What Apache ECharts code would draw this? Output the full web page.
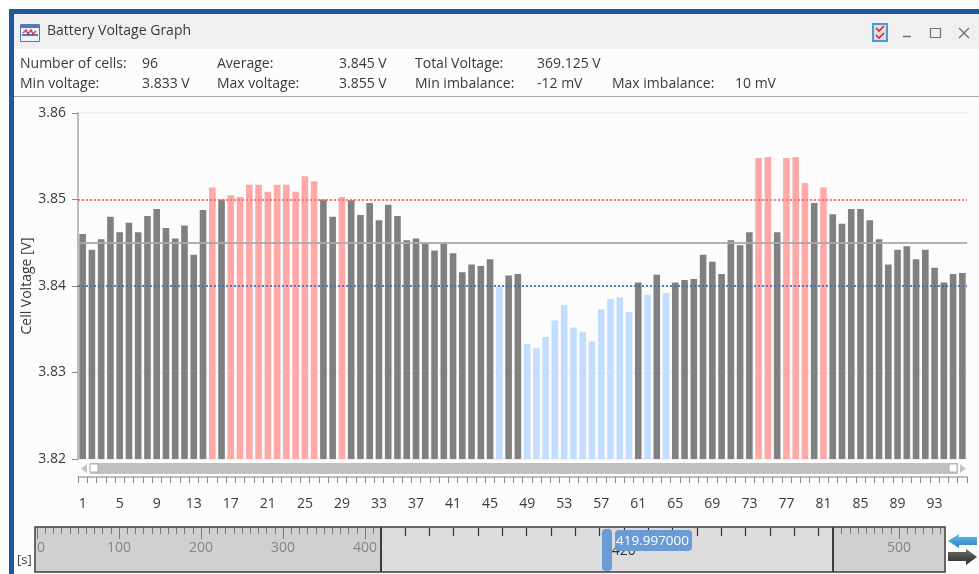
<!DOCTYPE html>
<html><head><meta charset="utf-8">
<style>html,body{margin:0;padding:0;background:#fff;overflow:hidden}#c{width:979px;height:574px}</style>
<script src="https://cdn.jsdelivr.net/npm/echarts@6/dist/echarts.min.js"></script>
</head><body><div id="c"></div>
<script>
const cellValues = [
3.8460,3.8442,3.8454,3.8480,3.8462,3.8473,3.8462,3.8481,3.8489,3.8467,3.8455,3.8470,3.8436,3.8488,3.8514,3.8500,
3.8505,3.8503,3.8517,3.8517,3.8509,3.8517,3.8517,3.8509,3.8527,3.8521,3.8500,3.8480,3.8503,3.8499,3.8482,3.8496,
3.8476,3.8494,3.8481,3.8453,3.8455,3.8449,3.8441,3.8449,3.8438,3.8416,3.8425,3.8423,3.8431,3.8399,3.8412,3.8414,
3.8333,3.8328,3.8341,3.8360,3.8378,3.8352,3.8347,3.8336,3.8373,3.8385,3.8387,3.8370,3.8404,3.8390,3.8413,3.8392,
3.8404,3.8407,3.8408,3.8436,3.8428,3.8414,3.8453,3.8447,3.8462,3.8548,3.8549,3.8462,3.8548,3.8549,3.8519,3.8496,
3.8514,3.8483,3.8472,3.8489,3.8489,3.8476,3.8454,3.8425,3.8442,3.8446,3.8431,3.8442,3.8421,3.8404,3.8414,3.8415];
const cellNumbers = cellValues.map((_, i) => String(i + 1));
const averageVoltage = 3.845, upperLimit = 3.85, lowerLimit = 3.84;
const middleRulerTicks = [411,412,413,414,415,416,417,418,419,420,421,422,423,424,425,426,427,428];
const infoRows = [
  [[20,64,'Number of cells:'],[142,64,'96'],[217,64,'Average:'],[339,64,'3.845 V'],[415,64,'Total Voltage:'],[537,64,'369.125 V']],
  [[20,84,'Min voltage:'],[142,84,'3.833 V'],[217,84,'Max voltage:'],[339,84,'3.855 V'],[415,84,'Min imbalance:'],[537,84,'-12 mV'],[612,84,'Max imbalance:'],[735,84,'10 mV']]
];
const FONT = '"Open Sans","Noto Sans",sans-serif';
const TEXT = '#3a3a3a';
const rect = (x,y,w,h,fill,extra) => Object.assign({type:'rect',silent:true,shape:{x,y,width:w,height:h},style:{fill}},extra||{});
const line = (x1,y1,x2,y2,stroke,lineWidth,z) => ({type:'line',silent:true,z:z||0,shape:{x1,y1,x2,y2},style:{stroke,lineWidth}});
const label = (x,y,text,size,fill,z) => ({type:'text',silent:true,z:z||5,x,y,style:{text,font:size+'px '+FONT,fill,textVerticalAlign:'middle',textBaseline:'middle'}});
const poly = (points,fill,z) => ({type:'polygon',silent:true,z:z||5,shape:{points},style:{fill}});
const polyline = (points,stroke,lineWidth,z) => ({type:'polyline',silent:true,z:z||5,shape:{points},style:{stroke,lineWidth,fill:'none'}});
const vGrad = (a,b) => new echarts.graphic.LinearGradient(0,0,0,1,[{offset:0,color:a},{offset:1,color:b}]);

const behind = [
  rect(9,9,970,5,'#1f56a0',{z:-2}),
  rect(9,9,5,565,'#1f56a0',{z:-2}),
  rect(14,14,965,35,'#f0f0f0',{z:-2}),
  rect(14,49,965,525,'#fcfcfc',{z:-2}),
  line(14,96.5,979,96.5,'#a8a8a8',1,-1),
  rect(35,527,346,45,'#d0d0d0',{z:-1}),
  rect(381,527,452,45,'#dcdcdc',{z:-1}),
  rect(833,527,112,45,'#d0d0d0',{z:-1})
];
const front = [
  // window icon
  rect(20.5,24.5,19,17,'#ffffff',{z:5,style:{fill:'#eef3fb',stroke:'#5a78b0',lineWidth:1}}),
  rect(21,25,18,3,'#5a78b0',{z:5}),
  polyline([[23,33],[26,30],[28,34],[31,30],[33,34],[36,31]],'#d84040',1.5,6),
  line(22,35,38,35,'#2a4f9a',1.5,6),
  label(47,31,'Battery Voltage Graph',14,TEXT),
  // window buttons
  rect(873,24,14,17,'#cfe4f7',{z:5,style:{fill:'#e8d8d8',stroke:'#4a9ad8',lineWidth:2}}),
  polyline([[876,28],[879,31],[884,26]],'#c83030',1.6,6),
  polyline([[876,35],[879,38],[884,33]],'#c83030',1.6,6),
  line(903,36.5,911,36.5,'#707070',1.5,5),
  {type:'rect',silent:true,z:5,shape:{x:930.5,y:28.5,width:10,height:9},style:{fill:'none',stroke:'#707070',lineWidth:1.2}},
  line(959,28,969,38,'#707070',1.3,5),
  line(969,28,959,38,'#707070',1.3,5),
  // scrollbar under the plot
  rect(90,463,868,11,'#c0c0c0',{z:5}),
  rect(90,464,8,8,'#ffffff',{z:6,style:{fill:'#ffffff',stroke:'#b0b0b0',lineWidth:1}}),
  rect(949,464,8,8,'#ffffff',{z:6,style:{fill:'#ffffff',stroke:'#b0b0b0',lineWidth:1}}),
  poly([[81,468.5],[87,464],[87,473]],'#c4c4c4',6),
  poly([[966,468.5],[960,464],[960,473]],'#c4c4c4',6),
  // time ruler frame
  {type:'rect',silent:true,z:8,shape:{x:35,y:527,width:910,height:45},style:{fill:'none',stroke:'#3c3c3c',lineWidth:1.5}},
  line(381,527,381,572,'#3c3c3c',2,8),
  line(833,527,833,572,'#3c3c3c',2,8),
  label(17,560,'[s]',13,TEXT),
  // time cursor
  rect(602,529,10,42,'#6a9bd5',{z:9,shape:{x:602,y:529,width:10,height:42,r:4}}),
  rect(615,530,77,21,'#6a9bd5',{z:9,shape:{x:615,y:530,width:77,height:21,r:4}}),
  label(616,541,'419.997000',13.5,'#ffffff',10),
  // step arrows
  poly([[948,541],[959,534],[959,537],[977,537],[977,545],[959,545],[959,548]],vGrad('#62c0ee','#2c80bc'),9),
  poly([[977,557],[966,549],[966,552],[948,552],[948,561],[966,561],[966,565]],vGrad('#6a6a6a','#2c2c2c'),9)
];
infoRows.forEach(r => r.forEach(c => front.push(label(c[0],c[1],c[2],14,TEXT))));

const chart = echarts.init(document.getElementById('c'), null, {renderer:'canvas'});
chart.setOption({
  animation:false,
  backgroundColor:'#ffffff',
  textStyle:{fontFamily:FONT},
  graphic:{elements:behind.concat(front)},
  grid:[
    {left:78,top:113,width:889,height:346,containLabel:false},
    {left:37,top:527,width:344.4,height:45},
    {left:380.4,top:527,width:437.9,height:45},
    {left:833.4,top:527,width:106.6,height:45}
  ],
  xAxis:[
    {gridIndex:0,type:'category',data:cellNumbers,position:'bottom',offset:18,
      axisLine:{show:true,onZero:false,lineStyle:{color:'#a8a8a8',width:1.5}},
      axisTick:{show:true,interval:0,length:6,lineStyle:{color:'#8a8a8a'}},
      axisLabel:{interval:3,margin:20,fontSize:14,color:TEXT,hideOverlap:false},
      splitLine:{show:false}},
    // overview ruler, left part: fine and coarse ticks
    {gridIndex:1,type:'value',position:'top',min:0,max:420,interval:10,
      axisLine:{show:false,onZero:false},axisTick:{show:true,inside:true,length:7,lineStyle:{color:'#777777'}},
      axisLabel:{show:false},splitLine:{show:false}},
    {gridIndex:1,type:'value',position:'top',min:0,max:420,
      axisLine:{show:false,onZero:false},axisTick:{show:true,inside:true,length:12,customValues:[0,100,200,300,400],lineStyle:{color:'#777777'}},
      axisLabel:{show:true,inside:true,margin:14,fontSize:14,color:'#858585',customValues:[0,100,200,300,400],alignMinLabel:'left'},
      splitLine:{show:false}},
    // magnified middle part
    {gridIndex:2,type:'value',position:'top',min:410,max:428,
      axisLine:{show:false,onZero:false},axisTick:{show:false},
      axisLabel:{show:true,inside:true,margin:17,fontSize:14,color:'#333333',customValues:[420]},
      splitLine:{show:false}},
    // overview ruler, right part
    {gridIndex:3,type:'value',position:'top',min:420,max:550,interval:10,
      axisLine:{show:false,onZero:false},axisTick:{show:true,inside:true,length:7,lineStyle:{color:'#777777'}},
      axisLabel:{show:false},splitLine:{show:false}},
    {gridIndex:3,type:'value',position:'top',min:420,max:550,
      axisLine:{show:false,onZero:false},axisTick:{show:true,inside:true,length:12,customValues:[500],lineStyle:{color:'#777777'}},
      axisLabel:{show:true,inside:true,margin:14,fontSize:14,color:'#858585',customValues:[500]},
      splitLine:{show:false}}
  ],
  yAxis:[
    {gridIndex:0,type:'value',min:3.82,max:3.86,interval:0.01,
      name:'Cell Voltage [V]',nameLocation:'middle',nameGap:44,nameMoveOverlap:false,
      nameTextStyle:{fontSize:14,color:TEXT},
      axisLine:{show:true,lineStyle:{color:'#a8a8a8',width:1.5}},
      axisTick:{show:true,length:6,lineStyle:{color:'#8a8a8a'}},
      axisLabel:{fontSize:14,color:TEXT,margin:12,padding:[2,0,0,0],formatter:v=>v.toFixed(2)},
      splitLine:{show:true,lineStyle:{color:'#eeeeee',width:1.5}}},
    {gridIndex:1,type:'value',show:false},
    {gridIndex:2,type:'value',show:false},
    {gridIndex:3,type:'value',show:false}
  ],
  series:[
    {type:'bar',xAxisIndex:0,yAxisIndex:0,barWidth:6.6,silent:true,
      data:cellValues.map(v=>({value:v,itemStyle:{color:v>upperLimit?'#ffa8a8':v<lowerLimit?'#c2ddff':'#808080'}})),
      markLine:{silent:true,precision:4,symbol:'none',label:{show:false},animation:false,data:[
        {yAxis:averageVoltage,lineStyle:{color:'#aaaaaa',type:'solid',width:2,opacity:.9}},
        {yAxis:upperLimit,lineStyle:{color:'#ff6868',type:[2,2],width:2,opacity:.9}},
        {yAxis:lowerLimit,lineStyle:{color:'#4070c0',type:[2,2],width:2,opacity:.9}}
      ]}}
  ]
});
// The ruler's magnified ticks, placed by the middle axis's own scale.
const tickLines = middleRulerTicks.map(t => {
  const px = chart.convertToPixel({xAxisIndex:3}, t);
  const x = Math.round(Number.isFinite(px) ? px : 380.4 + (t - 410) * 437.9 / 18) + 0.5;
  return line(x, 528, x, 536, '#333333', 1.2, 7);
});
chart.setOption({graphic:{elements:behind.concat(front, tickLines)}});
</script></body></html>
